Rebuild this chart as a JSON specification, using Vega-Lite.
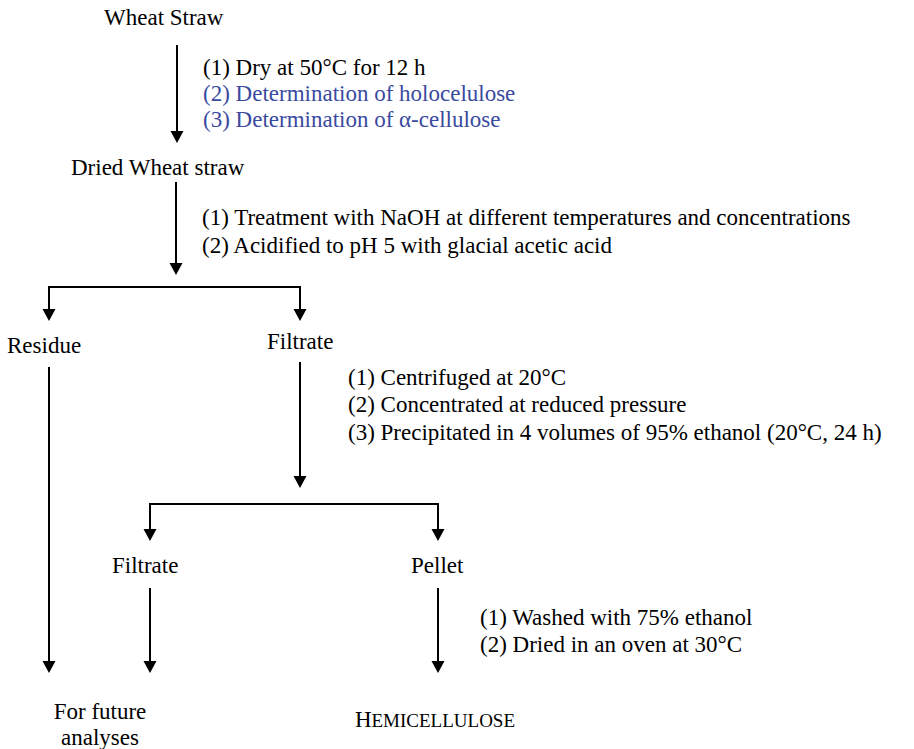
{
  "$schema": "https://vega.github.io/schema/vega-lite/v6.json",
  "width": 914,
  "height": 749,
  "padding": 0,
  "autosize": {"type": "none"},
  "background": "white",
  "config": {"view": {"stroke": null}},
  "datasets": {
    "lines": [
      {"id": "a1", "x": 177, "y": 45, "x2": 177, "y2": 140},
      {"id": "a2", "x": 176, "y": 182, "x2": 176, "y2": 272},
      {"id": "h1", "x": 48, "y": 287, "x2": 301, "y2": 287},
      {"id": "a3", "x": 49, "y": 287, "x2": 49, "y2": 318},
      {"id": "a4", "x": 300, "y": 287, "x2": 300, "y2": 318},
      {"id": "a5", "x": 49, "y": 367, "x2": 49, "y2": 670},
      {"id": "a6", "x": 300, "y": 362, "x2": 300, "y2": 485},
      {"id": "h2", "x": 149, "y": 504, "x2": 439, "y2": 504},
      {"id": "a7", "x": 150, "y": 504, "x2": 150, "y2": 538},
      {"id": "a8", "x": 438, "y": 504, "x2": 438, "y2": 538},
      {"id": "a9", "x": 150, "y": 588, "x2": 150, "y2": 670},
      {"id": "a10", "x": 438, "y": 588, "x2": 438, "y2": 670}
    ],
    "heads": [
      {"id": "a1", "x": 177, "y": 143},
      {"id": "a2", "x": 176, "y": 275},
      {"id": "a3", "x": 49, "y": 321},
      {"id": "a4", "x": 300, "y": 321},
      {"id": "a5", "x": 49, "y": 673},
      {"id": "a6", "x": 300, "y": 488},
      {"id": "a7", "x": 150, "y": 541},
      {"id": "a8", "x": 438, "y": 541},
      {"id": "a9", "x": 150, "y": 673},
      {"id": "a10", "x": 438, "y": 673}
    ],
    "labels": [
      {"text": "Wheat Straw", "x": 104, "y": 18, "kind": "node", "anchor": "left"},
      {"text": "(1) Dry at 50°C for 12 h", "x": 203, "y": 68, "kind": "node", "anchor": "left"},
      {"text": "(2) Determination of holocelulose", "x": 203, "y": 94, "kind": "blue", "anchor": "left"},
      {"text": "(3) Determination of α-cellulose", "x": 203, "y": 120, "kind": "blue", "anchor": "left"},
      {"text": "Dried Wheat straw", "x": 71, "y": 168, "kind": "node", "anchor": "left"},
      {"text": "(1) Treatment with NaOH at different temperatures and concentrations", "x": 202, "y": 218, "kind": "node", "anchor": "left"},
      {"text": "(2) Acidified to pH 5 with glacial acetic acid", "x": 202, "y": 246, "kind": "node", "anchor": "left"},
      {"text": "Residue", "x": 7, "y": 346, "kind": "node", "anchor": "left"},
      {"text": "Filtrate", "x": 267, "y": 342, "kind": "node", "anchor": "left"},
      {"text": "(1) Centrifuged at 20°C", "x": 348, "y": 378, "kind": "node", "anchor": "left"},
      {"text": "(2) Concentrated at reduced pressure", "x": 348, "y": 405, "kind": "node", "anchor": "left"},
      {"text": "(3) Precipitated in 4 volumes of 95% ethanol (20°C, 24 h)", "x": 348, "y": 433, "kind": "node", "anchor": "left"},
      {"text": "Filtrate", "x": 112, "y": 566, "kind": "node", "anchor": "left"},
      {"text": "Pellet", "x": 411, "y": 566, "kind": "node", "anchor": "left"},
      {"text": "(1) Washed with 75% ethanol", "x": 480, "y": 618, "kind": "node", "anchor": "left"},
      {"text": "(2) Dried in an oven at 30°C", "x": 480, "y": 645, "kind": "node", "anchor": "left"},
      {"text": "For future", "x": 100, "y": 712, "kind": "node", "anchor": "center"},
      {"text": "analyses", "x": 100, "y": 738, "kind": "node", "anchor": "center"}
    ],
    "caps": [
      {"text": "H", "x": 355, "y": 727, "part": "big"},
      {"text": "EMICELLULOSE", "x": 371.5, "y": 727, "part": "small"}
    ]
  },
  "layer": [
    {
      "data": {"name": "lines"},
      "mark": {"type": "rule", "color": "black", "strokeWidth": 2},
      "encoding": {
        "x": {"field": "x", "type": "quantitative", "scale": {"domain": [0, 914], "nice": false, "zero": false}, "axis": null},
        "y": {"field": "y", "type": "quantitative", "scale": {"domain": [749, 0], "nice": false, "zero": false}, "axis": null},
        "x2": {"field": "x2"},
        "y2": {"field": "y2"}
      }
    },
    {
      "data": {"name": "heads"},
      "mark": {"type": "point", "shape": "M-1,-1.85L1,-1.85L0,0Z", "filled": true, "color": "black", "opacity": 1, "size": 169},
      "encoding": {
        "x": {"field": "x", "type": "quantitative", "axis": null},
        "y": {"field": "y", "type": "quantitative", "axis": null}
      }
    },
    {
      "data": {"name": "labels"},
      "transform": [{"filter": "datum.anchor === 'left'"}],
      "mark": {"type": "text", "align": "left", "baseline": "middle", "font": "Liberation Serif", "fontSize": 23},
      "encoding": {
        "x": {"field": "x", "type": "quantitative", "axis": null},
        "y": {"field": "y", "type": "quantitative", "axis": null},
        "text": {"field": "text"},
        "color": {"field": "kind", "type": "nominal", "scale": {"domain": ["node", "blue"], "range": ["#000000", "#3a4a9f"]}, "legend": null}
      }
    },
    {
      "data": {"name": "labels"},
      "transform": [{"filter": "datum.anchor === 'center'"}],
      "mark": {"type": "text", "align": "center", "baseline": "middle", "font": "Liberation Serif", "fontSize": 23, "color": "black"},
      "encoding": {
        "x": {"field": "x", "type": "quantitative", "axis": null},
        "y": {"field": "y", "type": "quantitative", "axis": null},
        "text": {"field": "text"}
      }
    },
    {
      "data": {"name": "caps"},
      "mark": {"type": "text", "align": "left", "baseline": "alphabetic", "font": "Liberation Serif", "color": "black"},
      "encoding": {
        "x": {"field": "x", "type": "quantitative", "axis": null},
        "y": {"field": "y", "type": "quantitative", "axis": null},
        "text": {"field": "text"},
        "size": {"field": "part", "type": "nominal", "scale": {"domain": ["big", "small"], "range": [23, 19]}, "legend": null}
      }
    }
  ]
}
